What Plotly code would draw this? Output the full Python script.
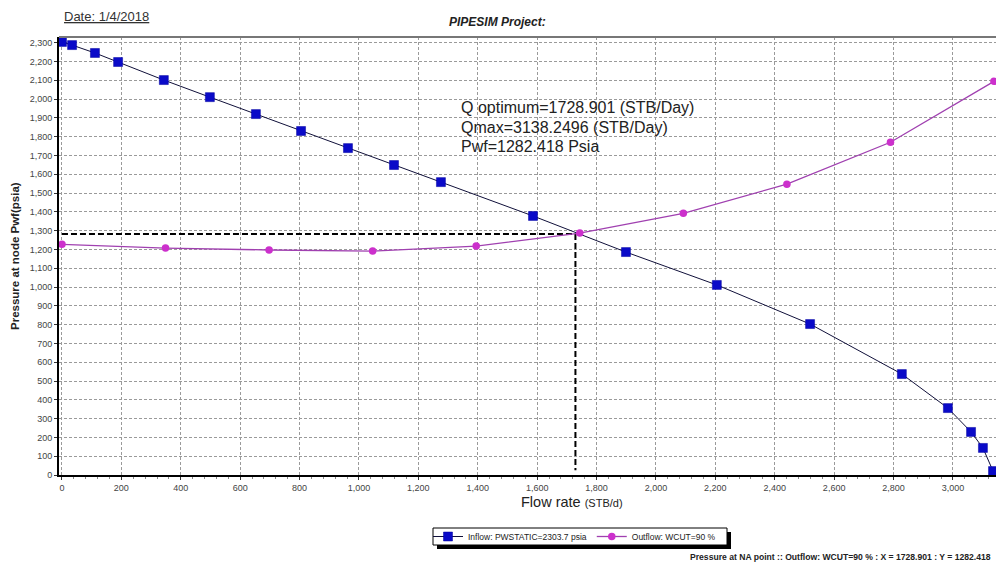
import plotly.graph_objects as go

# ---------------- data ----------------
inflow_q = [0, 34, 111, 189, 343, 498, 653, 805, 963, 1118, 1276, 1586, 1899,
            2205, 2519, 2828, 2983, 3061, 3101, 3135]
inflow_p = [2303.7, 2287, 2245, 2197, 2101, 2010, 1920, 1830, 1739, 1649, 1558,
            1378, 1186, 1011, 803, 537, 356, 229, 144, 21]

outflow_q = [0, 348.7, 697.4, 1046.1, 1394.8, 1743.5, 2092.2, 2440.9, 2789.6, 3138.2]
outflow_p = [1227, 1207, 1197, 1191, 1218, 1287, 1392, 1547, 1770, 2094]

q_opt = 1728.901
q_max = 3138.2496
pwf = 1282.418
pws = 2303.7
wcut = 90
date_text = "1/4/2018"

x_ticks = list(range(0, 3001, 200))
y_ticks = list(range(0, 2301, 100))

# ---------------- layout helpers (page pixels -> paper) ----------------
L, R, T, B = 59, 996, 37, 475
W, H = R - L, B - T


def px(xp):
    return (xp - L) / W


def py(yp):
    return (B - yp) / H


FONT = "Arial, Liberation Sans, sans-serif"

fig = go.Figure()

# dashed guide lines at the operating point
fig.add_trace(go.Scatter(x=[0, q_opt], y=[pwf, pwf], mode="lines",
                         line=dict(color="black", width=2, dash="6px,3px"),
                         showlegend=False, hoverinfo="skip"))
fig.add_trace(go.Scatter(x=[q_opt, q_opt], y=[pwf, 25], mode="lines",
                         line=dict(color="black", width=2, dash="6px,3px"),
                         showlegend=False, hoverinfo="skip"))

fig.add_trace(go.Scatter(
    x=inflow_q, y=inflow_p, mode="lines+markers",
    name=f"Inflow: PWSTATIC={pws} psia",
    line=dict(color="#10103a", width=1),
    marker=dict(symbol="square", size=9, color="#0a0ac8",
                line=dict(color="#0000a0", width=0.5)),
))
fig.add_trace(go.Scatter(
    x=outflow_q, y=outflow_p, mode="lines+markers",
    name=f"Outflow: WCUT={wcut} %",
    line=dict(color="#a040b0", width=1.3),
    marker=dict(symbol="circle", size=7.5, color="#cc30cc"),
))

grid = dict(showgrid=True, gridcolor="#9a9a9a", gridwidth=1, griddash="3px,2px")

fig.update_xaxes(
    range=[-10, 3145], tickvals=x_ticks, tickformat=",d",
    tickfont=dict(family=FONT, size=9, color="#444"),
    ticks="outside", ticklen=3, tickcolor="#333",
    showline=True, linecolor="black", linewidth=2,
    minor=dict(dtick=40, ticks="outside", ticklen=2, tickcolor="#888", showgrid=False),
    zeroline=False, **grid)
fig.update_yaxes(
    range=[0, 2330], tickvals=y_ticks, tickformat=",d",
    tickfont=dict(family=FONT, size=9, color="#444"),
    ticks="outside", ticklen=3, tickcolor="#333",
    showline=True, linecolor="black", linewidth=2,
    zeroline=False, **grid)

info_lines = [f"Q optimum={q_opt} (STB/Day)", f"Qmax={q_max} (STB/Day)", f"Pwf={pwf} Psia"]
info_y = [107, 127, 146]

annotations = [
    dict(text=f"<u>Date: {date_text}</u>", x=px(62), y=py(17), xanchor="left",
         yanchor="middle", font=dict(family=FONT, size=13, color="#333")),
    dict(text="<b><i>PIPESIM Project:</i></b>", x=px(497), y=py(22), xanchor="center",
         yanchor="middle", font=dict(family=FONT, size=12, color="#222")),
    dict(text="<b>Pressure at node Pwf(psia)</b>", x=px(15), y=py(256), textangle=-90,
         xanchor="center", yanchor="middle", font=dict(family=FONT, size=11.5, color="#222")),
    dict(text="Flow rate <span style='font-size:11px'>(STB/d)</span>", x=px(572), y=py(502),
         xanchor="center", yanchor="middle", font=dict(family=FONT, size=14.5, color="#222")),
    dict(text=(f"<b>Pressure at NA point :: Outflow: WCUT={wcut} % : X = {q_opt} : "
               f"Y = {pwf}</b>"),
         x=px(993), y=py(557), xanchor="right", yanchor="middle",
         font=dict(family=FONT, size=8.6, color="#222")),
]
for t, yy in zip(info_lines, info_y):
    annotations.append(dict(text=t, x=px(459), y=py(yy), xanchor="left", yanchor="middle",
                            font=dict(family=FONT, size=16, color="#222")))
for a in annotations:
    a.update(xref="paper", yref="paper", showarrow=False)

shapes = [
    # grey top frame line
    dict(type="line", xref="paper", yref="paper", x0=0, x1=1, y0=1, y1=1,
         line=dict(color="#777", width=2)),
    # legend drop shadow and box
    dict(type="rect", xref="paper", yref="paper", x0=px(437), x1=px(731),
         y0=py(549), y1=py(532), fillcolor="black", line=dict(width=0)),
    dict(type="rect", xref="paper", yref="paper", x0=px(433), x1=px(727),
         y0=py(545), y1=py(528), fillcolor="white", line=dict(color="black", width=1)),
]

fig.update_layout(
    width=996, height=566,
    margin=dict(l=L, r=996 - R, t=T, b=566 - B),
    paper_bgcolor="white", plot_bgcolor="white",
    font=dict(family=FONT, size=10, color="#222"),
    showlegend=True,
    legend=dict(orientation="h", x=px(428), y=py(536.5), xanchor="left", yanchor="middle",
                bgcolor="rgba(0,0,0,0)", borderwidth=0,
                font=dict(family=FONT, size=8.5, color="#222"),
                itemwidth=30, tracegroupgap=0),
    annotations=annotations,
    shapes=shapes,
)

fig.write_html("out.html")
